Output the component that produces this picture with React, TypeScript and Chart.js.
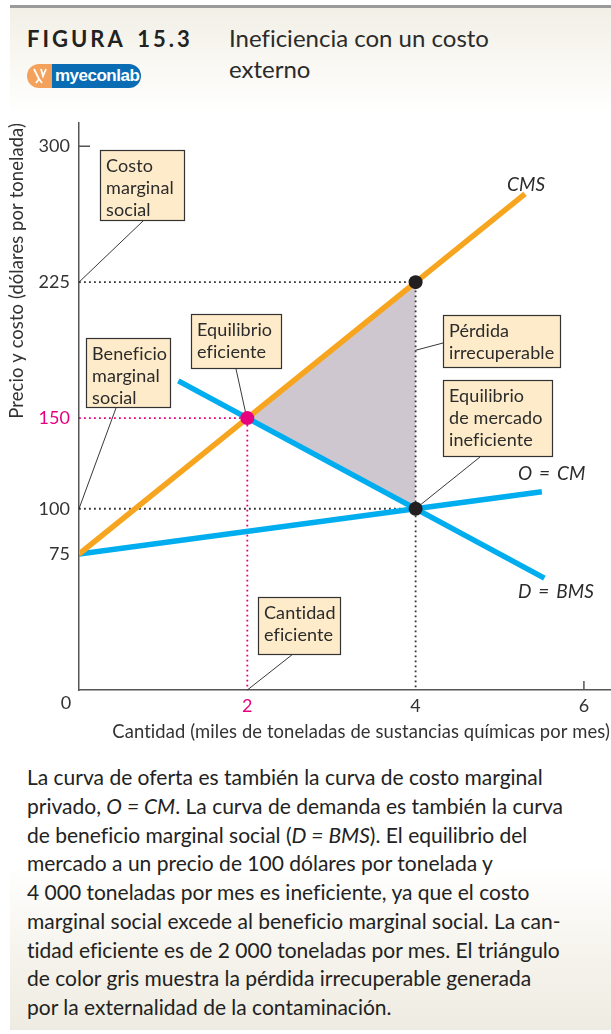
import React, { useEffect, useRef } from "react";
import { Chart, registerables } from "chart.js";
Chart.register(...registerables);

// ---------- data ----------
const yTickValues = [75, 100, 150, 225, 300];
const xTickValues = [2, 4, 6];
const cmsCurve = [{ x: 0, y: 75 }, { x: 5.3, y: 273.75 }];
const supplyCurve = [{ x: 0, y: 75 }, { x: 5.5, y: 109.4 }];
const demandCurve = [{ x: 1.18, y: 170.5 }, { x: 5.53, y: 61.75 }];
const efficientEquilibrium = [{ x: 2, y: 150 }];
const marketPoints = [{ x: 4, y: 225 }, { x: 4, y: 100 }];
const deadweightUpper = [{ x: 2, y: 150 }, { x: 4, y: 225 }];
const deadweightLower = [{ x: 2, y: 150 }, { x: 4, y: 100 }];
const guide225 = [{ x: 0, y: 225 }, { x: 4, y: 225 }, { x: 4, y: 0 }];
const guide100 = [{ x: 0, y: 100 }, { x: 4, y: 100 }];
const guide150 = [{ x: 0, y: 150 }, { x: 2, y: 150 }, { x: 2, y: 0 }];

const ORANGE = "#f7a51e";
const BLUE = "#00adef";
const PINK = "#e6007e";
const GRAY_FILL = "#cfc7cf";
const BOX_FILL = "#fdebc9";
const TXT = "#2b2b2b";
const FONT = "Lato, 'Open Sans', sans-serif";

const CANVAS_TOP = 110;

// annotation boxes (page coordinates) with leader targets in data coords
const annotations = [
  { x: 100, y: 150, w: 84, h: 70, lines: ["Costo", "marginal", "social"], from: [143, 221], to: { x: 0, y: 225 } },
  { x: 86, y: 338, w: 84, h: 69, lines: ["Beneficio", "marginal", "social"], from: [116, 408], to: { x: 0, y: 100 } },
  { x: 191, y: 314, w: 90, h: 54, lines: ["Equilibrio", "eficiente"], from: [236, 369], to: { x: 1.98, y: 153 } },
  { x: 443, y: 315, w: 117, h: 52, lines: ["Pérdida", "irrecuperable"], from: [443, 343], to: { x: 3.64, y: 183 } },
  { x: 443, y: 380, w: 109, h: 76, lines: ["Equilibrio", "de mercado", "ineficiente"], from: [480, 457], to: { x: 4, y: 100 } },
  { x: 258, y: 597, w: 82, h: 57, lines: ["Cantidad", "eficiente"], from: [293, 654], to: { x: 2, y: 0 } },
];

const curveLabels = [
  { text: "CMS", x: 507, y: 185 },
  { text: "O\u2009 = \u2009CM", x: 518, y: 474 },
  { text: "D\u2009 = \u2009BMS", x: 518, y: 592 },
];

const captionLines: React.ReactNode[] = [
  "La curva de oferta es también la curva de costo marginal",
  <>privado, <i>O = CM</i>. La curva de demanda es también la curva</>,
  <>de beneficio marginal social (<i>D = BMS</i>). El equilibrio del</>,
  "mercado a un precio de 100 dólares por tonelada y",
  "4 000 toneladas por mes es ineficiente, ya que el costo",
  "marginal social excede al beneficio marginal social. La can-",
  "tidad eficiente es de 2 000 toneladas por mes. El triángulo",
  "de color gris muestra la pérdida irrecuperable generada",
  "por la externalidad de la contaminación.",
];

const annotationPlugin = {
  id: "annotationsCustom",
  beforeDraw(chart: any) {
    try { chart.ctx.letterSpacing = "0.1px"; } catch (e) { /* ignore */ }
  },
  beforeDatasetsDraw(chart: any) {
    const { ctx, scales } = chart;
    ctx.save();
    ctx.strokeStyle = "#222";
    ctx.lineWidth = 0.9;
    for (const a of annotations) {
      ctx.beginPath();
      ctx.moveTo(a.from[0], a.from[1] - CANVAS_TOP);
      ctx.lineTo(scales.x.getPixelForValue(a.to.x), scales.y.getPixelForValue(a.to.y));
      ctx.stroke();
    }
    ctx.restore();
  },
  afterDatasetsDraw(chart: any) {
    const { ctx, scales } = chart;
    ctx.save();
    for (const a of annotations) {
      const top = a.y - CANVAS_TOP;
      ctx.fillStyle = BOX_FILL;
      ctx.fillRect(a.x, top, a.w, a.h);
      ctx.strokeStyle = "#333";
      ctx.lineWidth = 1.2;
      ctx.strokeRect(a.x + 0.5, top + 0.5, a.w, a.h);
      ctx.fillStyle = TXT;
      ctx.font = `18px ${FONT}`;
      ctx.textBaseline = "middle";
      ctx.textAlign = "left";
      a.lines.forEach((l, i) => ctx.fillText(l, a.x + 6, top + 16 + i * 22));
    }
    ctx.font = `italic 19px ${FONT}`;
    ctx.fillStyle = TXT;
    ctx.textBaseline = "middle";
    for (const l of curveLabels) ctx.fillText(l.text, l.x, l.y - CANVAS_TOP);
    // zero label at the origin corner
    ctx.font = `18px ${FONT}`;
    ctx.textAlign = "center";
    ctx.textBaseline = "middle";
    ctx.fillStyle = "#333";
    ctx.fillText("0", scales.x.getPixelForValue(0) - 13, scales.y.getPixelForValue(0) + 13);
    // inner tick marks
    ctx.strokeStyle = "#555";
    ctx.lineWidth = 1.5;
    const y300 = scales.y.getPixelForValue(300);
    const x0 = scales.x.getPixelForValue(0);
    ctx.beginPath();
    ctx.moveTo(x0, y300);
    ctx.lineTo(x0 + 11, y300);
    const x6 = scales.x.getPixelForValue(6);
    const y0 = scales.y.getPixelForValue(0);
    ctx.moveTo(x6, y0);
    ctx.lineTo(x6, y0 - 9);
    ctx.stroke();
    ctx.restore();
  },
};

function ChartCanvas() {
  const ref = useRef<HTMLCanvasElement>(null);
  useEffect(() => {
    if (!ref.current) return;
    const dotted = (data: any, color: string, order: number) => ({
      data,
      showLine: true,
      borderColor: color,
      borderWidth: 1.8,
      borderDash: [1.8, 3.2],
      pointRadius: 0,
      fill: false,
      order,
    });
    const zeroPad = (s: any) => {
      s.paddingTop = 0;
      s.paddingBottom = 0;
      s.paddingLeft = 0;
      s.paddingRight = 0;
    };
    const chart = new Chart(ref.current, {
      type: "scatter",
      data: {
        datasets: [
          { data: deadweightUpper, showLine: true, borderWidth: 0, pointRadius: 0, backgroundColor: GRAY_FILL, fill: 1, order: 10 } as any,
          { data: deadweightLower, showLine: true, borderWidth: 0, pointRadius: 0, fill: false, order: 10 } as any,
          dotted(guide225, "#333", 8),
          dotted(guide100, "#333", 8),
          dotted(guide150, PINK, 8),
          { data: supplyCurve, showLine: true, borderColor: BLUE, borderWidth: 5.5, pointRadius: 0, borderCapStyle: "butt", order: 5 },
          { data: demandCurve, showLine: true, borderColor: BLUE, borderWidth: 5.5, pointRadius: 0, borderCapStyle: "butt", order: 4 },
          { data: cmsCurve, showLine: true, borderColor: ORANGE, borderWidth: 5.5, pointRadius: 0, borderCapStyle: "butt", order: 3 },
          { data: efficientEquilibrium, showLine: false, pointRadius: 7, pointBackgroundColor: PINK, pointBorderWidth: 0, order: 1 },
          { data: marketPoints, showLine: false, pointRadius: 7, pointBackgroundColor: "#231f20", pointBorderWidth: 0, order: 1 },
        ] as any,
      },
      options: {
        animation: false,
        responsive: false,
        maintainAspectRatio: false,
        layout: { autoPadding: false, padding: { top: 13, right: 1, bottom: 7, left: 0 } },
        plugins: { legend: { display: false }, tooltip: { enabled: false } },
        elements: { line: { tension: 0 } },
        scales: {
          x: {
            type: "linear",
            min: 0,
            max: 6.31,
            grid: { display: false, drawTicks: false },
            border: { display: true, color: "#555", width: 1.5 },
            afterBuildTicks: (s: any) => { s.ticks = xTickValues.map((v) => ({ value: v })); },
            afterFit: (s: any) => { s.height = 53; zeroPad(s); },
            ticks: {
              padding: 5,
              font: { family: FONT, size: 18 },
              color: (c: any) => (c.tick && c.tick.value === 2 ? PINK : "#333"),
            },
            title: {
              display: true,
              text: "Cantidad (miles de toneladas de sustancias químicas por mes)",
              align: "end",
              color: "#333",
              font: { family: FONT, size: 18.4 },
              padding: { top: 0, bottom: 0 },
            },
          },
          y: {
            type: "linear",
            min: 0,
            max: 312.8,
            grid: { display: false, drawTicks: false },
            border: { display: true, color: "#555", width: 1.5 },
            afterBuildTicks: (s: any) => { s.ticks = yTickValues.map((v) => ({ value: v })); },
            afterFit: (s: any) => { s.width = 79; zeroPad(s); },
            ticks: {
              padding: 9,
              font: { family: FONT, size: 18 },
              color: (c: any) => (c.tick && c.tick.value === 150 ? PINK : "#333"),
            },
            title: {
              display: true,
              text: "Precio y costo (dólares por tonelada)",
              align: "end",
              color: "#333",
              font: { family: FONT, size: 18.4 },
              padding: { top: 6, bottom: 0 },
            },
          },
        },
      } as any,
      plugins: [annotationPlugin],
    });
    return () => chart.destroy();
  }, []);
  return <canvas ref={ref} width={611} height={640} style={{ position: "absolute", left: 0, top: CANVAS_TOP, width: 611, height: 640 }} />;
}

export default function App() {
  return (
    <div style={{ position: "absolute", left: 0, top: 0, width: 611, height: 1034, background: "#fff", fontFamily: FONT, color: TXT, overflow: "hidden", fontVariantLigatures: "none" }}>
      <div style={{ position: "absolute", left: 10, top: 5, width: 601, height: 1025, background: "linear-gradient(to bottom, #f1efe5 0px, #f9f8f3 60px, #ffffff 110px, #ffffff 860px, #f4f2ea 960px, #eeece2 1025px)" }} />
      <div style={{ position: "absolute", left: 10, top: 5, width: 601, height: 2.5, background: "#9a9a9a" }} />
      <div style={{ position: "absolute", left: 27, top: 25, fontSize: 22, fontWeight: 700, letterSpacing: 3, wordSpacing: 4, color: "#222", whiteSpace: "nowrap" }}>FIGURA 15.3</div>
      <div style={{ position: "absolute", left: 229, top: 22, fontSize: 24, lineHeight: "31px", color: "#2b2b2b", whiteSpace: "nowrap" }}>
        Ineficiencia con un costo<br />externo
      </div>
      <div style={{ position: "absolute", left: 27, top: 64, width: 114, height: 24, borderRadius: 12, overflow: "hidden", display: "flex" }}>
        <div style={{ width: 25, height: 24, background: "#f4a25b", display: "flex", alignItems: "center", justifyContent: "center" }}>
          <svg width="18" height="18" viewBox="0 0 18 18">
            <path d="M3 2 L8 12 L5 16 M8 12 L11 16 M10 2 L12 9 L15 2" stroke="#fff" strokeWidth="1.8" fill="none" />
          </svg>
        </div>
        <div style={{ flex: 1, background: "#0a6db3", color: "#fff", fontFamily: "Arial, 'Liberation Sans', sans-serif", fontWeight: 700, fontSize: 17, lineHeight: "24px", paddingLeft: 3, letterSpacing: -0.5, whiteSpace: "nowrap" }}>myeconlab</div>
      </div>
      <ChartCanvas />
      <div style={{ position: "absolute", left: 27, top: 763, fontSize: 21, lineHeight: "28.75px", color: "#222", whiteSpace: "nowrap" }}>
        {captionLines.map((l, i) => (<div key={i}>{l}</div>))}
      </div>
    </div>
  );
}
